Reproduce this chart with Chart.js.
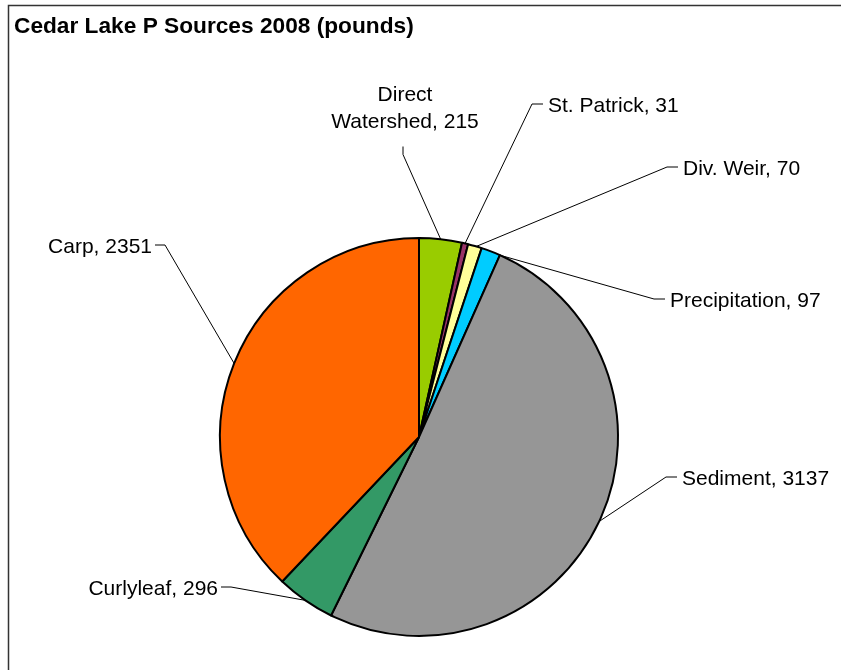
<!DOCTYPE html>
<html>
<head>
<meta charset="utf-8">
<title>Cedar Lake P Sources 2008</title>
<script src="https://cdn.jsdelivr.net/npm/chart.js@4"></script>
<style>
    body { margin: 0; background: #fff; }
    #wrap { width: 841px; height: 670px; position: relative; }
</style>
</head>
<body>
<div id="wrap"><canvas id="pieChart" width="841" height="670"></canvas></div>
<script>
const chartTitle = 'Cedar Lake P Sources 2008 (pounds)';
const categories = ['Direct Watershed', 'St. Patrick', 'Div. Weir', 'Precipitation', 'Sediment', 'Curlyleaf', 'Carp'];
const pounds = [215, 31, 70, 97, 3137, 296, 2351];
const sliceColors = ['#99CC00', '#993366', '#FFFF99', '#00CCFF', '#969696', '#339966', '#FF6600'];

// label placement, offsets from the pie centre (layout only)
const labelLayout = [
    { dx: -14, dy: -330, side: 'below', at: 0.5, wrap: true },
    { dx: 129, dy: -333, side: 'right', at: 0.5 },
    { dx: 264, dy: -270, side: 'right', at: 0.6 },
    { dx: 251, dy: -138, side: 'right', at: 1.0 },
    { dx: 263, dy: 40, side: 'right', at: 0.5 },
    { dx: -201, dy: 150, side: 'left', at: 0.5 },
    { dx: -267, dy: -192, side: 'left', at: 0.5 }
];

const labelSize = 21;
const labelFont = labelSize + 'px Arial, "Liberation Sans", sans-serif';
const titleFont = 'bold 22.7px Arial, "Liberation Sans", sans-serif';

const frameAndLabels = {
    id: 'frameAndLabels',
    beforeDraw(chart) {
        const ctx = chart.ctx;
        ctx.save();
        ctx.fillStyle = '#fff';
        ctx.fillRect(0, 0, chart.width, chart.height);
        ctx.strokeStyle = '#333';
        ctx.lineWidth = 1.5;
        ctx.strokeRect(8.5, 5.5, chart.width + 20, chart.height + 20);
        ctx.restore();
    },
    afterDraw(chart) {
        const ctx = chart.ctx;
        const arcs = chart.getDatasetMeta(0).data;
        ctx.save();
        ctx.fillStyle = '#000';
        ctx.font = titleFont;
        ctx.textBaseline = 'alphabetic';
        ctx.textAlign = 'left';
        ctx.fillText(chartTitle, 14, 33);

        ctx.font = labelFont;
        ctx.strokeStyle = '#000';
        ctx.lineWidth = 1;
        const capShift = labelSize * 0.36;
        arcs.forEach((arc, i) => {
            const lay = labelLayout[i];
            const p = arc.getProps(['x', 'y', 'outerRadius', 'startAngle', 'endAngle'], true);
            const a = p.startAngle + (p.endAngle - p.startAngle) * lay.at;
            const ax = p.x + Math.cos(a) * p.outerRadius;
            const ay = p.y + Math.sin(a) * p.outerRadius;
            const tx = p.x + lay.dx;
            const ty = p.y + lay.dy;
            const text = categories[i] + ', ' + pounds[i];
            let pts;
            if (lay.side === 'below') {
                const cut = text.indexOf(' ');
                const lines = [text.slice(0, cut), text.slice(cut + 1)];
                const lh = 27;
                ctx.textAlign = 'center';
                lines.forEach((ln, k) => {
                    ctx.fillText(ln, tx, ty + (k - 0.5) * lh + capShift);
                });
                const sy = ty + lh / 2 + 26;
                pts = [[tx - 2, sy], [tx - 2, sy + 8], [ax, ay]];
            } else if (lay.side === 'right') {
                ctx.textAlign = 'left';
                ctx.fillText(text, tx, ty + capShift);
                pts = [[tx - 5, ty], [tx - 16, ty], [ax, ay]];
            } else {
                ctx.textAlign = 'right';
                ctx.fillText(text, tx, ty + capShift);
                pts = [[tx + 3, ty], [tx + 13, ty], [ax, ay]];
            }
            ctx.beginPath();
            ctx.moveTo(pts[0][0], pts[0][1]);
            for (let k = 1; k < pts.length; k++) ctx.lineTo(pts[k][0], pts[k][1]);
            ctx.stroke();
        });
        ctx.restore();
    }
};

new Chart(document.getElementById('pieChart'), {
    type: 'pie',
    data: {
        labels: categories,
        datasets: [{
            data: pounds,
            backgroundColor: sliceColors,
            borderColor: '#000',
            borderWidth: 2
        }]
    },
    options: {
        responsive: false,
        animation: false,
        radius: 199,
        layout: {
            padding: { left: 100, right: 103, top: 220, bottom: 16 }
        },
        plugins: {
            legend: { display: false },
            tooltip: { enabled: false },
            title: { display: false }
        }
    },
    plugins: [frameAndLabels]
});
</script>
</body>
</html>
